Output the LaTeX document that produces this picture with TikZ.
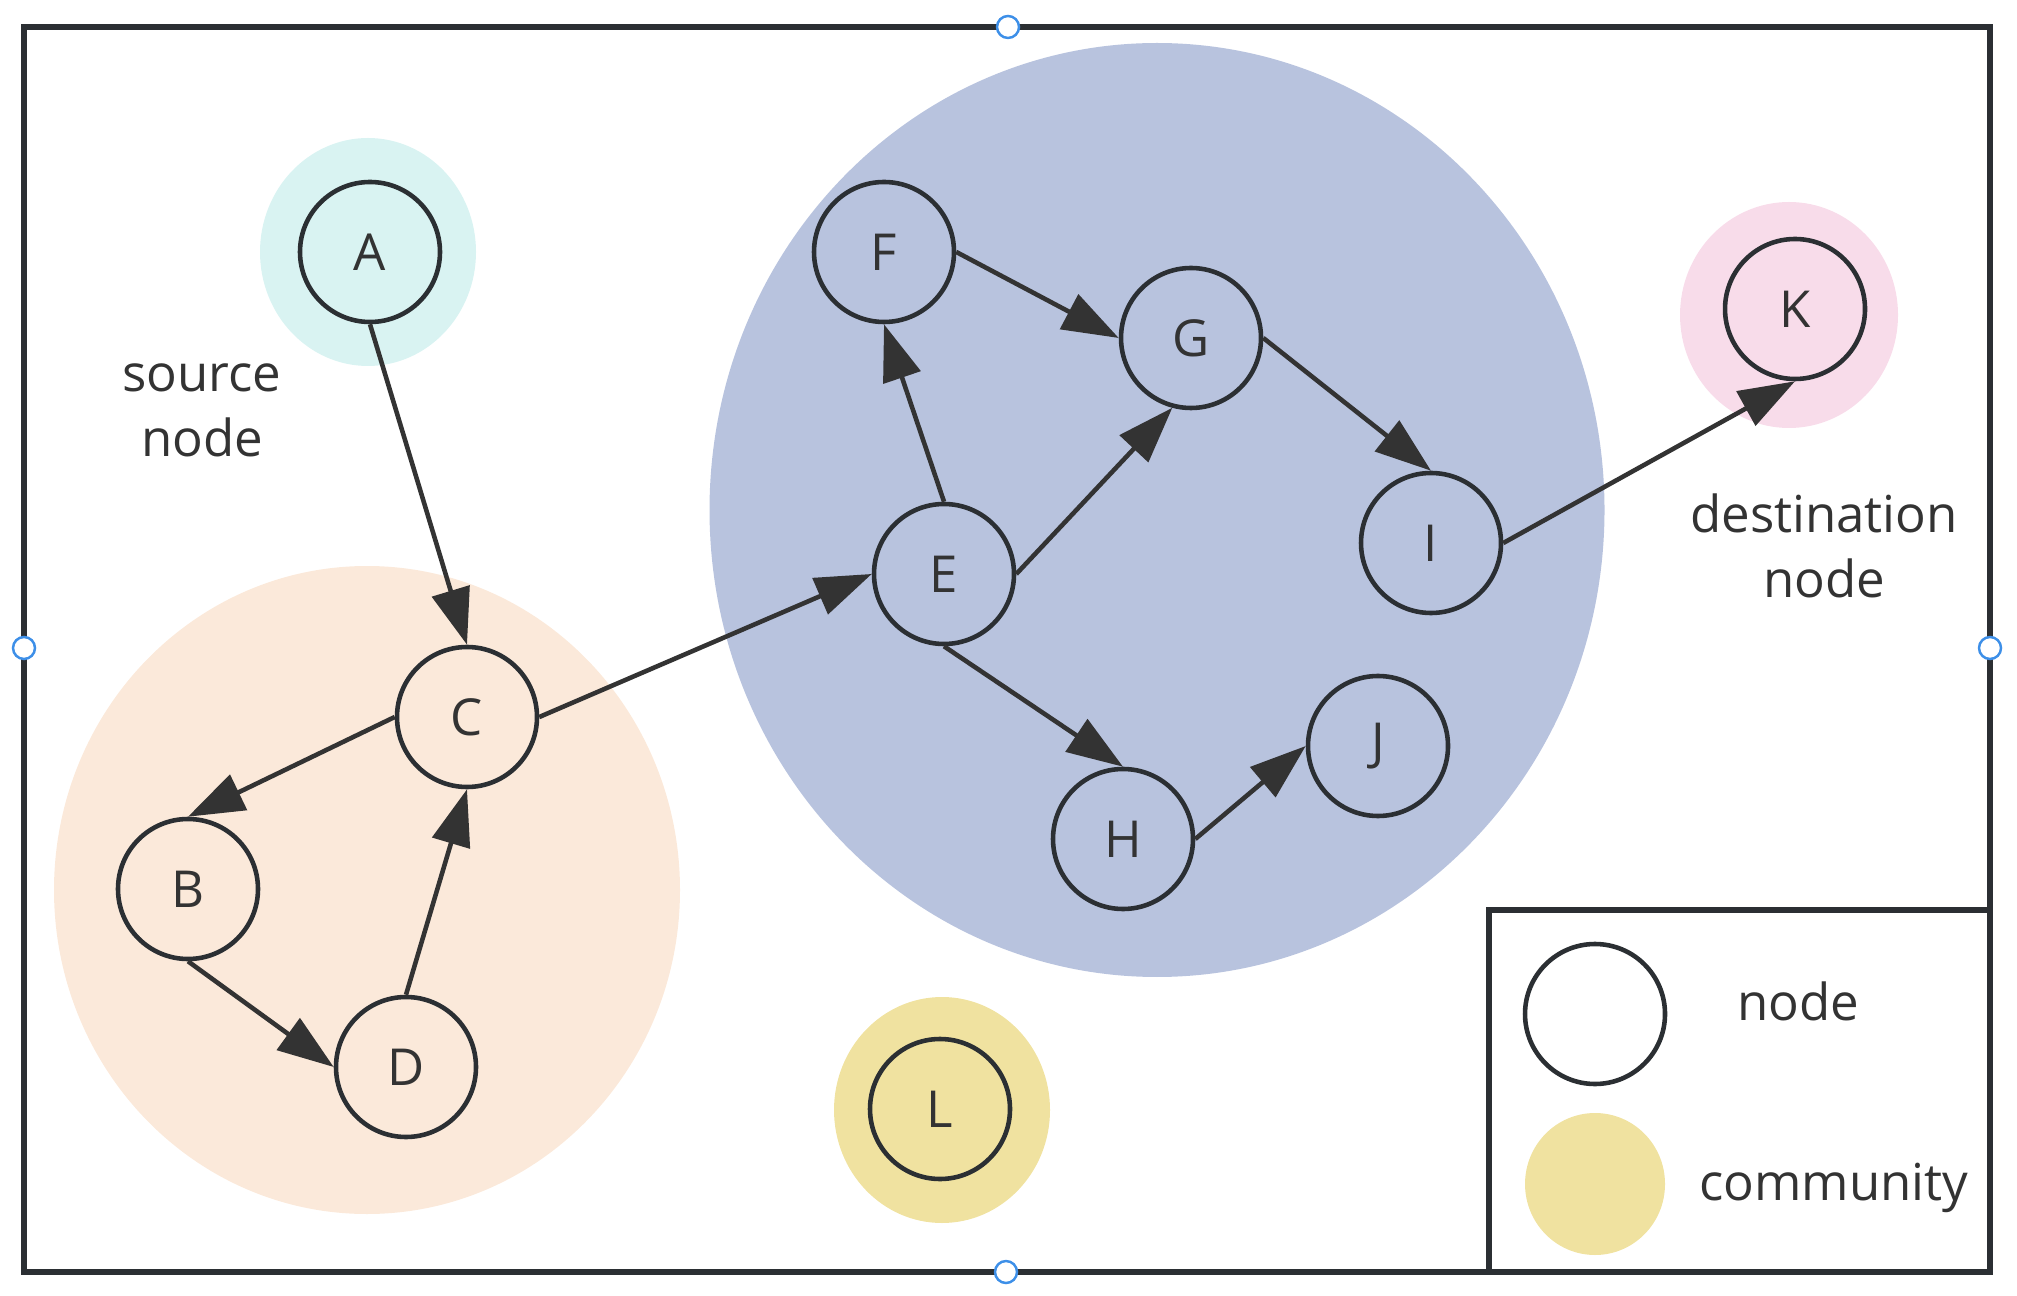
\documentclass[tikz,border=0pt]{standalone}
\usepackage{fontspec}
\setmainfont{Open Sans}
\usetikzlibrary{arrows.meta,shapes.geometric}

\definecolor{edgegray}{HTML}{333333}
\definecolor{framegray}{HTML}{2B2F33}
\definecolor{srccyan}{HTML}{D9F3F2}
\definecolor{commorange}{HTML}{FBE9DA}
\definecolor{commblue}{HTML}{B8C3DE}
\definecolor{dstpink}{HTML}{F8DCEA}
\definecolor{commyellow}{HTML}{F0E2A0}
\definecolor{handleblue}{HTML}{3D8FE8}

\def\vertexsize{1.40cm}

\begin{document}
\begin{tikzpicture}[x=0.1mm,y=-0.1mm,>={Triangle[length=16pt,width=11pt]},font=\fontsize{14.5}{18.5}\selectfont]
    \tikzstyle{vertex}=[circle,draw=framegray,line width=1.3pt,minimum size=\vertexsize,inner sep=0pt,text=edgegray]
    \tikzstyle{community}=[ellipse,inner sep=0pt]
    \tikzstyle{link}=[->,draw=edgegray,line width=1.3pt]
    \tikzstyle{handle}=[circle,draw=handleblue,fill=white,line width=0.7pt,minimum size=2.2mm,inner sep=0pt]
    \tikzstyle{annot}=[align=center,text=edgegray]

    \useasboundingbox (0,0) rectangle (2017,1296);

    % Draw the communities
    \node[community,fill=commorange,minimum width=6.26cm,minimum height=6.48cm] (comm-BCD) at (367,890) {};
    \node[community,fill=commblue,minimum width=8.95cm,minimum height=9.34cm] (comm-EFGHIJ) at (1157,510) {};
    \node[community,fill=srccyan,minimum width=2.16cm,minimum height=2.28cm] (comm-A) at (368,252) {};
    \node[community,fill=dstpink,minimum width=2.18cm,minimum height=2.26cm] (comm-K) at (1789,315) {};
    \node[community,fill=commyellow,minimum width=2.16cm,minimum height=2.26cm] (comm-L) at (942,1110) {};

    % Draw the frame
    \draw[framegray,line width=1.5pt] (24,27) rectangle (1990,1272);

    % Draw the graph nodes
    \foreach \name / \x / \y in {A/370/252,B/188/889,C/467/717,D/406/1067,E/944/574,F/884/252,
                                 G/1191/338,H/1123/839,I/1431/543,J/1378/746,K/1795/309,L/940/1109}
        \node[vertex] (\name) at (\x,\y) {\name};

    % Connect the nodes
    \foreach \source / \dest in {A.south/C.north,C.west/B.north,B.south/D.west,D.north/C.south,
                                 C.east/E.west,E.north/F.south,E.east/G.255,F.east/G.west,
                                 G.east/I.north,I.east/K.south,E.south/H.north,H.east/J.west}
        \path (\source) edge[link] (\dest);

    % Annotate source and destination
    \node[annot] (src-label) at (202,410) {source\\node};
    \node[annot] (dst-label) at (1824,546) {destination\\node};

    % Draw the legend
    \draw[framegray,line width=1.5pt] (1489,910) rectangle (1990,1272);
    \node[vertex] (key-node) at (1595,1014) {};
    \node[community,fill=commyellow,minimum width=1.40cm,minimum height=1.42cm] (key-comm) at (1595,1184) {};
    \node[annot,anchor=base] (key-node-label) at (1798,1020) {node};
    \node[annot,anchor=base] (key-comm-label) at (1834,1200) {community};

    % Selection handles
    \foreach \x / \y in {1008/27,24/648,1990/648,1006/1272}
        \node[handle] at (\x,\y) {};
\end{tikzpicture}
\end{document}
